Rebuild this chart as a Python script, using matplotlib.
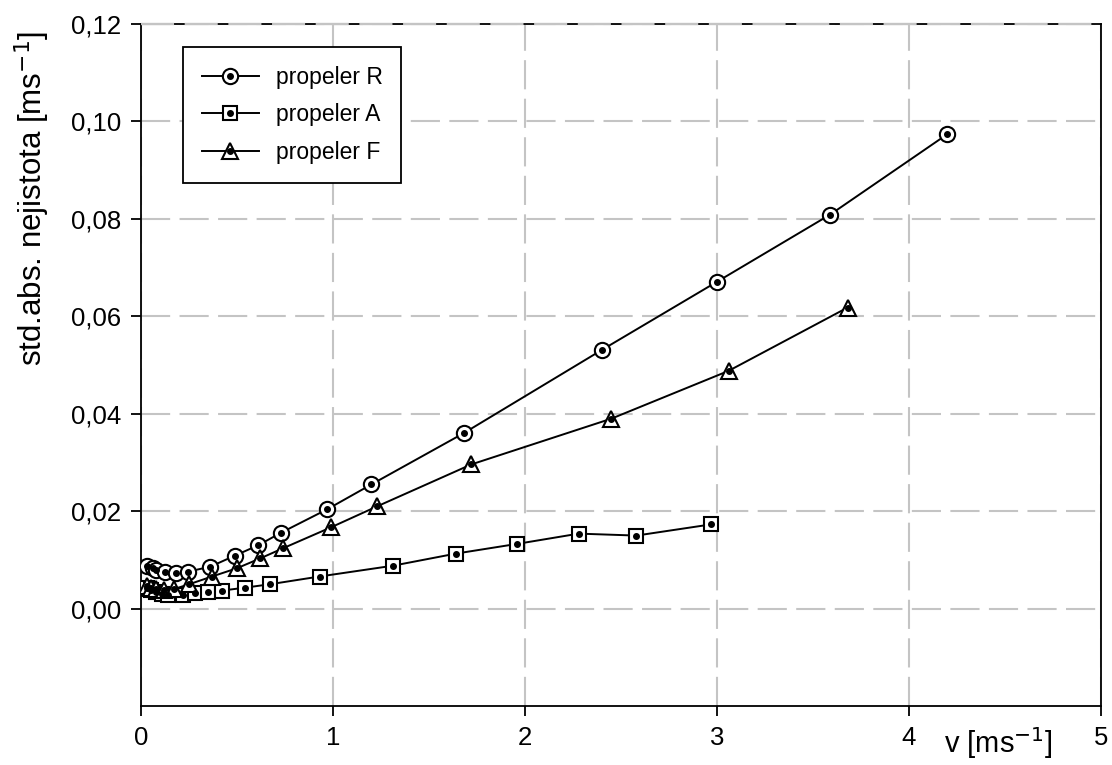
import matplotlib
matplotlib.use("Agg")
import matplotlib.pyplot as plt
from matplotlib.ticker import FuncFormatter

plt.rcParams["font.family"] = ["Liberation Sans", "DejaVu Sans"]

# propeler R (circles)
v_r = [0.03, 0.06, 0.08, 0.125, 0.18, 0.245, 0.36, 0.49, 0.61, 0.73,
       0.97, 1.20, 1.68, 2.40, 3.00, 3.59, 4.20]
u_r = [0.0088, 0.0084, 0.0080, 0.0076, 0.0074, 0.0076, 0.0086, 0.0109, 0.0130, 0.0156,
       0.0204, 0.0255, 0.0360, 0.0531, 0.0671, 0.0809, 0.0974]

# propeler A (squares)
v_a = [0.03, 0.05, 0.08, 0.11, 0.14, 0.22, 0.28, 0.35, 0.42, 0.54,
       0.67, 0.93, 1.31, 1.64, 1.96, 2.28, 2.58, 2.97]
u_a = [0.0042, 0.0039, 0.0035, 0.0031, 0.0029, 0.0029, 0.0033, 0.0035, 0.0037, 0.0043,
       0.0050, 0.0066, 0.0088, 0.0113, 0.0133, 0.0154, 0.0150, 0.0173]

# propeler F (triangles)
v_f = [0.03, 0.05, 0.08, 0.12, 0.17, 0.25, 0.37, 0.50, 0.62, 0.74,
       0.99, 1.23, 1.72, 2.45, 3.06, 3.68]
u_f = [0.0046, 0.0043, 0.0041, 0.0039, 0.0040, 0.0050, 0.0066, 0.0083, 0.0103, 0.0124,
       0.0167, 0.0210, 0.0296, 0.0390, 0.0488, 0.0618]

labels = ["propeler R", "propeler A", "propeler F"]
markers = ["o", "s", "^"]
sizes = [11, 10.5, 12]

GRID = "#c4c4c4"

fig = plt.figure(figsize=(11.12, 7.65), dpi=100)
ax = fig.add_axes([0.1268, 0.077, 0.8633, 0.8916])

handles = []
for v, u, m, ms in zip([v_r, v_a, v_f], [u_r, u_a, u_f], markers, sizes):
    ln, = ax.plot(v, u, color="black", lw=1.4, marker=m, ms=ms, mfc="white",
                  mec="black", mew=1.5, zorder=4)
    dot, = ax.plot(v, u, ls="none", marker="o", ms=4, color="black", zorder=5)
    handles.append((ln, dot))

ax.set_xlim(0, 5)
ax.set_ylim(-0.02, 0.12)
ax.set_xticks([0, 1, 2, 3, 4, 5])
ax.set_yticks([0.0, 0.02, 0.04, 0.06, 0.08, 0.10, 0.12])
ax.yaxis.set_major_formatter(FuncFormatter(lambda y, _: f"{y:.2f}".replace(".", ",")))

ax.set_axisbelow(True)
ax.grid(True, color=GRID, lw=1.5, linestyle=(0, (14, 4.5)))
# dashed line over the top frame
ax.axhline(0.12, color=GRID, lw=1.7, linestyle=(0, (14, 4.5)), zorder=3, clip_on=False)

for sp in ax.spines.values():
    sp.set_linewidth(1.3)
ax.tick_params(direction="out", length=7, width=1.3, labelsize=18.5, pad=7,
               top=False, right=False)

ax.set_ylabel("std.abs. nejistota [ms$^{-1}$]", fontsize=22.5)
ax.yaxis.set_label_coords(-0.093, 0.745)
ax.text(0.893, -0.054, "v [ms$^{-1}$]", transform=ax.transAxes, fontsize=21,
        ha="center", va="center")

leg = ax.legend(handles, labels, loc="upper left", bbox_to_anchor=(0.044, 0.966),
                borderaxespad=0, fontsize=16.5, handlelength=2.5, labelspacing=0.65,
                borderpad=0.8, handletextpad=0.75, fancybox=False, framealpha=1,
                edgecolor="black")
leg.get_frame().set_linewidth(1.3)

fig.savefig("out.png", dpi=100, facecolor="white")
